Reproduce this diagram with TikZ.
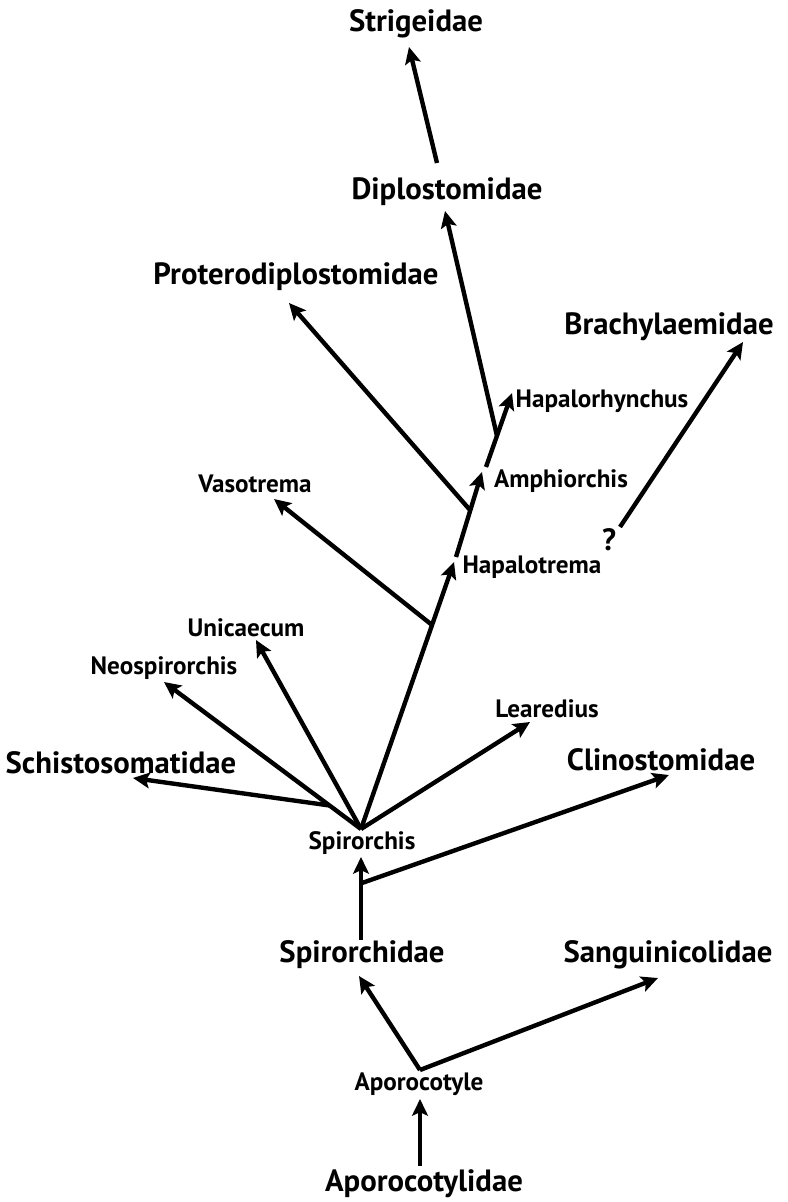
\documentclass[tikz,border=0pt]{standalone}
\usepackage{fontspec}
\setmainfont{PT Sans}
\usetikzlibrary{arrows.meta,calc}

\begin{document}
\begin{tikzpicture}[x=0.02cm, y=-0.02cm,
    family/.style ={font=\fontsize{17.5}{19}\selectfont\bfseries, inner sep=0pt},
    genus/.style ={font=\fontsize{14.3}{16}\selectfont\bfseries, inner sep=0pt},
    branch/.style ={line width=2.5pt, -{Stealth[length=9.5pt,width=9pt,inset=2pt]}}]
   \useasboundingbox (0,0) rectangle (787,1202);

   % labels
   \node[family] (Strig) at (416,24)  {Strigeidae};
   \node[family] (Diplo) at (447,192)  {Diplostomidae};
   \node[family] (Proter) at (296,277)  {Proterodiplostomidae};
   \node[family] (Brachy) at (669,327)  {Brachylaemidae};
   \node[genus] (Hapalor) at (602,401)  {Hapalorhynchus};
   \node[genus] (Amphi) at (561,481)  {Amphiorchis};
   \node[genus] (Vaso) at (255,484)  {Vasotrema};
   \node[genus] (Hapalot) at (532,567)  {Hapalotrema};
   \node[family] (Quest) at (609,540)  {?};
   \node[genus] (Unic) at (246,628)  {Unicaecum};
   \node[genus] (Neosp) at (164,668)  {Neospirorchis};
   \node[genus] (Leared) at (547,709)  {Learedius};
   \node[family] (Schisto) at (121,763)  {Schistosomatidae};
   \node[family] (Clino) at (661,760)  {Clinostomidae};
   \node[genus] (Spiro) at (362,843)  {Spirorchis};
   \node[family] (Spirid) at (362,955)  {Spirorchidae};
   \node[family] (Sangu) at (668,955)  {Sanguinicolidae};
   \node[genus] (Apor) at (419,1084)  {Aporocotyle};
   \node[family] (Aporid) at (424,1184)  {Aporocotylidae};

   % branch points and arrow tips
   \coordinate (apex) at (361,829);
   \coordinate (spiroBase) at (361,940);
   \coordinate (clinoFork) at (362,883);
   \coordinate (aporFork) at (420,1070);
   \coordinate (aporBase) at (420,1166);
   \coordinate (vasoFork) at (432,625);
   \coordinate (hapalotTop) at (456,557);
   \coordinate (proterFork) at (470,510);
   \coordinate (amphiTop) at (486,467);
   \coordinate (diploFork) at (497,436);
   \coordinate (diploTop) at (437,163);
   \coordinate (brachyBase) at (620,527);
   \coordinate (schistoFork) at ($(apex)!0.16!(164,682)$);

   \coordinate (tStrig) at (409,47);
   \coordinate (tDiplo) at (445,211);
   \coordinate (tProter) at (289,303);
   \coordinate (tBrachy) at (743,342);
   \coordinate (tHapalor) at (512,393);
   \coordinate (tAmphi) at (482,472);
   \coordinate (tVaso) at (274,499);
   \coordinate (tHapalot) at (454,562);
   \coordinate (tUnic) at (256,640);
   \coordinate (tNeosp) at (164,682);
   \coordinate (tLeared) at (530,722);
   \coordinate (tSchisto) at (133,778);
   \coordinate (tClino) at (669,775);
   \coordinate (tSpiro) at (361,857);
   \coordinate (tSpirid) at (359,976);
   \coordinate (tSangu) at (658,978);
   \coordinate (tApor) at (420,1099);

   \draw[branch] (aporBase) to (tApor);
   \draw[branch] (aporFork) to (tSpirid);
   \draw[branch] (aporFork) to (tSangu);
   \draw[branch] (spiroBase) to (tSpiro);
   \draw[branch] (clinoFork) to (tClino);
   \draw[branch] (apex) to (tLeared);
   \draw[branch] (apex) to (tUnic);
   \draw[branch] (apex) to (tNeosp);
   \draw[branch] (schistoFork) to (tSchisto);
   \draw[branch] (apex) to (tHapalot);
   \draw[branch] (vasoFork) to (tVaso);
   \draw[branch] (hapalotTop) to (tAmphi);
   \draw[branch] (proterFork) to (tProter);
   \draw[branch] (amphiTop) to (tHapalor);
   \draw[branch] (diploFork) to (tDiplo);
   \draw[branch] (diploTop) to (tStrig);
   \draw[branch] (brachyBase) to (tBrachy);
 \end{tikzpicture}
\end{document}
